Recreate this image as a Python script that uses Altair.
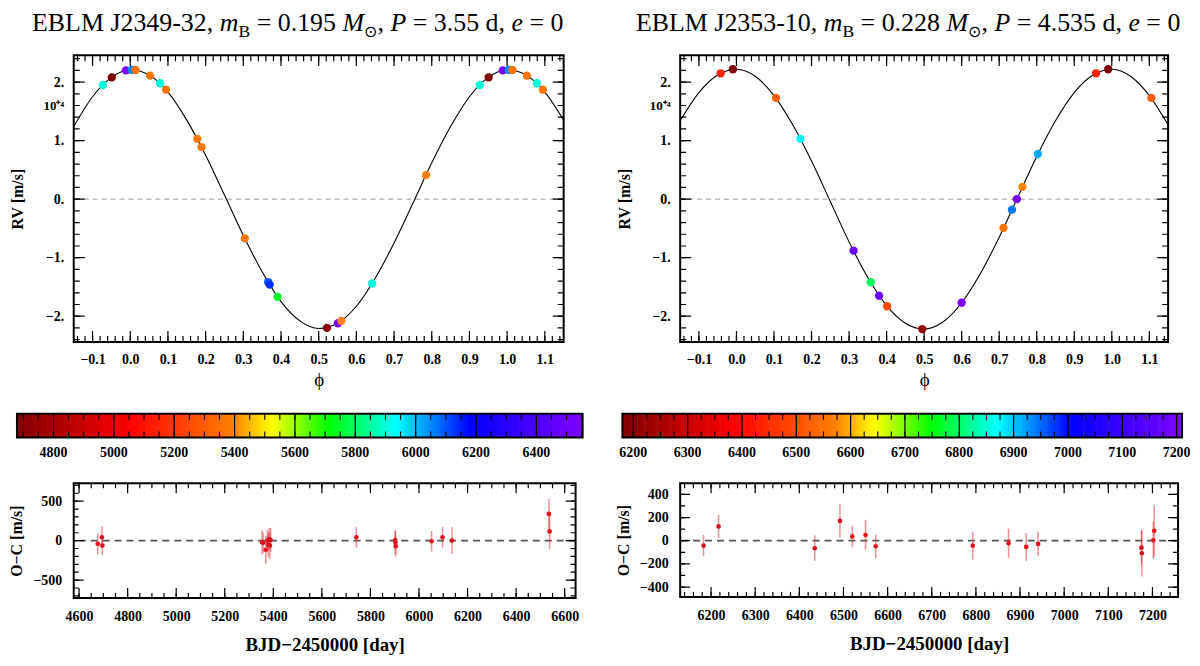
import altair as alt
import pandas as pd

FONT = "Liberation Serif"

#==========
# EBLM J2349-32 (left)
#==========
L_rv_phase = [0.9275, 0.951, 0.9885, 0.0037, 0.014, 0.0525, 0.079, 0.095, 0.178, 0.189,
              0.304, 0.366, 0.370, 0.391, 0.522, 0.551, 0.560, 0.642, 0.785]
L_rv = [19500, 20800, 22000, 22100, 22070, 21100, 19800, 18700, 10300, 8900,
        -6700, -14200, -14600, -16700, -22000, -21200, -20800, -14400, 4100]
L_rv_bjd = [5902, 4677, 6535, 6052, 5354, 5358, 5902, 5363, 5368, 5372,
            5378, 6097, 6136, 5742, 4694, 6538, 5384, 5902, 5389]

L_curve_phase = [-0.15, -0.10, -0.05, 0.00, 0.05, 0.10, 0.15, 0.20, 0.25, 0.30, 0.35, 0.40, 0.45, 0.50,
                 0.55, 0.60, 0.65, 0.70, 0.75, 0.80, 0.85, 0.90, 0.95, 1.00, 1.05, 1.10, 1.15]
L_curve_rv = [12400, 17500, 20800, 22100, 21200, 18300, 13500, 7500, 700, -6200, -12400, -17500, -20800, -22100,
              -21200, -18300, -13500, -7500, -700, 6200, 12400, 17500, 20800, 22100, 21200, 18300, 13500]

L_oc_bjd = [4677, 4694, 4696, 5354, 5358, 5369, 5376, 5379, 5383, 5386, 5389, 5742,
            5902, 5903, 5904, 6052, 6097, 6136, 6535, 6538]
L_oc = [-41, 42, -62, -21, -27, -116, 0, -54, 21, -62, 8, 42, 8, -21, -70, -8, 42, 0, 338, 117]
L_oc_err = [130, 140, 120, 150, 130, 180, 130, 150, 140, 170, 150, 130, 120, 150, 130, 130, 130, 170, 190, 220]

#==========
# EBLM J2353-10 (right)
#==========
R_rv_phase = [0.958, 0.9905, 0.1054, 0.1705, 0.312, 0.3576, 0.380, 0.4014, 0.495, 0.600,
              0.7115, 0.734, 0.747, 0.762, 0.803]
R_rv = [21500, 22200, 17300, 10300, -8800, -14200, -16500, -18300, -22200, -17700,
        -4900, -1800, 0, 2100, 7700]
R_rv_bjd = [6435, 6183, 6520, 6874, 7175, 6793, 7176, 6492, 6217, 7202,
            6550, 6941, 7204, 6573, 6914]

R_curve_phase = L_curve_phase
R_curve_rv = [13400, 18200, 21200, 22200, 21000, 17700, 12700, 6500, -400, -7300, -13400, -18200, -21200, -22200,
              -21000, -17700, -12700, -6500, 400, 7300, 13400, 18200, 21200, 22200, 21000, 17700, 12700]

R_oc_bjd = [6183, 6217, 6435, 6492, 6520, 6550, 6573, 6793, 6874, 6914, 6941, 7175, 7176, 7202, 7204]
R_oc = [-43, 123, -65, 171, 37, 49, -48, -43, -22, -54, -28, -60, -108, 3, 86]
R_oc_err = [92, 100, 109, 143, 93, 131, 100, 120, 126, 120, 107, 150, 200, 160, 220]

#==========
# ticks / colours
#==========
RV_X_LABELS = [round(-0.1 + 0.1 * i, 1) for i in range(13)]
RV_X_MINOR = [round(-0.14 + 0.02 * i, 2) for i in range(65)]
RV_Y_LABELS = [-20000, -10000, 0, 10000, 16000, 20000]
RV_Y_MAJOR = [-20000, -10000, 0, 10000, 20000]
RV_Y_MINOR = [-24000 + 2000 * i for i in range(25)]

L_CB_LABELS = list(range(4800, 6401, 200))
L_CB_MINOR = list(range(4700, 6551, 50))
R_CB_LABELS = list(range(6200, 7201, 100))
R_CB_MINOR = list(range(6200, 7201, 25))

L_OC_XLAB = list(range(4600, 6601, 200))
L_OC_XMIN = list(range(4600, 6641, 50))
L_OC_YLAB = [-500, 0, 500]
L_OC_YMIN = list(range(-700, 701, 100))
R_OC_XLAB = list(range(6200, 7201, 100))
R_OC_XMIN = list(range(6140, 7251, 20))
R_OC_YLAB = [-400, -200, 0, 200, 400]
R_OC_YMIN = list(range(-400, 401, 100))

RAINBOW_POS = [0, 0.2, 0.38, 0.45, 0.55, 0.67, 0.8, 1.0]
RAINBOW = ["#800000", "#ff0000", "#ff8000", "#ffff00", "#00ff00", "#00ffff", "#0000ff", "#8000ff"]


def rainbow(d0, d1):
    return alt.Scale(domain=[d0 + f * (d1 - d0) for f in RAINBOW_POS], range=RAINBOW, interpolate="rgb")


#==========
# helpers
#==========
REG = {" ": 250, ",": 250, "-": 333, ".": 250, "=": 564, "E": 611, "B": 667, "L": 611,
       "M": 889, "J": 389, "d": 500}
ITA = {"m": 722, "M": 833, "P": 611, "e": 444}


def text_w(s, size, italic=False):
    tab = ITA if italic else REG
    return sum(tab.get(c, 500 if c.isdigit() else 840) for c in s) * size / 1000


def title_layers(name, mass, period, cx, base, S):
    segs = [("EBLM " + name + ", ", False, 1.0, 0), ("m", True, 1.0, 0), ("B", False, 0.68, 0.22),
            (" = " + mass + " ", False, 1.0, 0), ("M", True, 1.0, 0), ("\u2299", False, 0.62, 0.22),
            (", ", False, 1.0, 0), ("P", True, 1.0, 0), (" = " + period + " d, ", False, 1.0, 0),
            ("e", True, 1.0, 0), (" = 0", False, 1.0, 0)]
    total = sum(text_w(t, S * k, it) for t, it, k, dy in segs)
    x = cx - total / 2
    one = pd.DataFrame({"a": [0]})
    out = []
    for t, it, k, dy in segs:
        lead = len(t) - len(t.lstrip(" "))
        out.append(alt.Chart(one).mark_text(
            text=t.strip(), align="left", baseline="alphabetic", font=FONT, fontSize=S * k,
            fontStyle="italic" if it else "normal", color="black"
        ).encode(x=alt.value(x + lead * 250 * S * k / 1000), y=alt.value(base + dy * S)))
        x += text_w(t, S * k, it)
    return out


def frame_ticks(xs, ys, xaxis, yaxis, xmaj, xmin, ymaj, ymin, W, H, big, small):
    # inward ticks on all four sides of the frame
    out = []
    for vals, L in ((xmin, small), (xmaj, big)):
        d = pd.DataFrame({"v": vals})
        enc = alt.X("v:Q", scale=xs, axis=xaxis)
        out.append(alt.Chart(d).mark_rule(color="black", strokeWidth=1.2, clip=True).encode(
            x=enc, y=alt.value(0), y2=alt.value(L)))
        out.append(alt.Chart(d).mark_rule(color="black", strokeWidth=1.2, clip=True).encode(
            x=enc, y=alt.value(H - L), y2=alt.value(H)))
    for vals, L in ((ymin, small), (ymaj, big)):
        d = pd.DataFrame({"v": vals})
        enc = alt.Y("v:Q", scale=ys, axis=yaxis)
        out.append(alt.Chart(d).mark_rule(color="black", strokeWidth=1.2, clip=True).encode(
            y=enc, x=alt.value(0), x2=alt.value(L)))
        out.append(alt.Chart(d).mark_rule(color="black", strokeWidth=1.2, clip=True).encode(
            y=enc, x=alt.value(W - L), x2=alt.value(W)))
    return out


def rv_panel(phase, rv, bjd, cph, crv, cscale, title, W, H):
    xs = alt.Scale(domain=[-0.15, 1.15], nice=False, zero=False)
    ys = alt.Scale(domain=[-24400, 24600], nice=False, zero=False)
    base = pd.DataFrame({"phase": phase, "rv": rv, "bjd": bjd})
    df = pd.concat([base.assign(phase=base.phase + s) for s in (-1, 0, 1)])
    df = df[(df.phase >= -0.15) & (df.phase <= 1.15)]

    xaxis = alt.Axis(values=RV_X_LABELS, format=".1f", title="\u03d5", ticks=False, domain=False, grid=False,
                     labelFont=FONT, labelFontWeight="bold", labelFontSize=14, labelPadding=11,
                     labelFlush=False, labelOverlap=False, titleFont=FONT, titleFontWeight="normal",
                     titleFontSize=19, titlePadding=4)
    yaxis = alt.Axis(values=RV_Y_LABELS, ticks=False, domain=False, grid=False,
                     labelExpr="datum.value == 16000 ? '10\u207a\u2074' : format(datum.value / 10000, 'd') + '.'",
                     labelFont=FONT, labelFontWeight="bold",
                     labelFontSize={"condition": {"test": "datum.value == 16000", "value": 13}, "value": 14},
                     labelPadding=10, labelFlush=False, labelOverlap=False, title="RV [m/s]",
                     titleFont=FONT, titleFontWeight="bold", titleFontSize=16, titlePadding=8,
                     minExtent=40, maxExtent=40)

    zero = alt.Chart(pd.DataFrame({"rv": [0]})).mark_rule(color="#9a9a9a", strokeDash=[5, 4], strokeWidth=1).encode(
        y=alt.Y("rv:Q", scale=ys, axis=yaxis))
    curve = alt.Chart(pd.DataFrame({"phase": cph, "rv": crv})).mark_line(
        color="black", strokeWidth=1.1, interpolate="monotone").encode(
        x=alt.X("phase:Q", scale=xs, axis=xaxis), y=alt.Y("rv:Q", scale=ys, axis=yaxis))
    pts = alt.Chart(df).mark_circle(size=70, opacity=1).encode(
        x=alt.X("phase:Q", scale=xs, axis=xaxis), y=alt.Y("rv:Q", scale=ys, axis=yaxis),
        color=alt.Color("bjd:Q", scale=cscale, legend=None))
    ticks = frame_ticks(xs, ys, xaxis, yaxis, RV_X_LABELS, RV_X_MINOR, RV_Y_MAJOR, RV_Y_MINOR, W, H, 11, 6)
    return alt.layer(zero, curve, pts, *ticks, *title).properties(width=W, height=H)


def colorbar(d0, d1, step, labels, minor, cscale, W, off, L, H):
    # bar of L px whose left end sits `off` px from the shared column origin
    k = (d1 - d0) / L
    v0 = d0 - off * k
    xs = alt.Scale(domain=[v0, v0 + W * k], nice=False, zero=False)
    X = lambda f: alt.X(f, scale=xs, axis=None)
    grad = alt.Chart(alt.sequence(d0, d1 + step, step, as_="t")).transform_calculate(
        t2="min(datum.t + %g, %g)" % (step * 1.6, d1)
    ).mark_rect(clip=False).encode(
        x=X("t:Q"), x2="t2:Q", color=alt.Color("t:Q", scale=cscale, legend=None))
    lines = alt.Chart(pd.DataFrame({"v": labels})).mark_rule(color="black", strokeWidth=1.2).encode(x=X("v:Q"))
    d = pd.DataFrame({"v": minor})
    top = alt.Chart(d).mark_rule(color="black", strokeWidth=1.1).encode(
        x=X("v:Q"), y=alt.value(0), y2=alt.value(6))
    bot = alt.Chart(d).mark_rule(color="black", strokeWidth=1.1).encode(
        x=X("v:Q"), y=alt.value(H - 6), y2=alt.value(H))
    border = alt.Chart(pd.DataFrame({"a": [d0], "b": [d1]})).mark_rect(
        fillOpacity=0, stroke="black", strokeWidth=2).encode(x=X("a:Q"), x2="b:Q")
    text = alt.Chart(pd.DataFrame({"v": labels})).mark_text(
        font=FONT, fontWeight="bold", fontSize=14, baseline="middle", align="center", color="black"
    ).encode(x=X("v:Q"), y=alt.value(H + 16), text=alt.Text("v:Q", format="d"))
    return alt.layer(grad, lines, top, bot, border, text).properties(
        width=W, height=H, view=alt.ViewBackground(stroke="transparent"))


def oc_panel(bjd, oc, err, xdom, ydom, xlab, xmin, ylab, ymin, W, H):
    xs = alt.Scale(domain=xdom, nice=False, zero=False)
    ys = alt.Scale(domain=ydom, nice=False, zero=False)
    df = pd.DataFrame({"bjd": bjd, "oc": oc, "err": err})
    df["lo"] = df.oc - df.err
    df["hi"] = df.oc + df.err

    xaxis = alt.Axis(values=xlab, format="d", ticks=False, domain=False, grid=False,
                     labelFont=FONT, labelFontWeight="bold", labelFontSize=14, labelPadding=12,
                     labelFlush=False, labelOverlap=False, title="BJD\u22122450000 [day]",
                     titleFont=FONT, titleFontWeight="bold", titleFontSize=19, titlePadding=12)
    yaxis = alt.Axis(values=ylab, format="d", ticks=False, domain=False, grid=False,
                     labelFont=FONT, labelFontWeight="bold", labelFontSize=14, labelPadding=12,
                     labelFlush=False, labelOverlap=False, title="O\u2212C [m/s]",
                     titleFont=FONT, titleFontWeight="bold", titleFontSize=16, titlePadding=8,
                     minExtent=41, maxExtent=41)

    zero = alt.Chart(pd.DataFrame({"oc": [0]})).mark_rule(color="#555555", strokeDash=[7, 5], strokeWidth=1.8).encode(
        y=alt.Y("oc:Q", scale=ys, axis=yaxis))
    bars = alt.Chart(df).mark_rule(color="#e8333c", opacity=0.55, strokeWidth=1.5).encode(
        x=alt.X("bjd:Q", scale=xs, axis=xaxis), y=alt.Y("lo:Q", scale=ys, axis=yaxis), y2="hi:Q")
    pts = alt.Chart(df).mark_circle(size=22, color="#e0101c", opacity=1).encode(
        x=alt.X("bjd:Q", scale=xs, axis=xaxis), y=alt.Y("oc:Q", scale=ys, axis=yaxis))
    ticks = frame_ticks(xs, ys, xaxis, yaxis, xlab, xmin, ylab, ymin, W, H, 10, 5)
    return alt.layer(zero, bars, pts, *ticks).properties(width=W, height=H)


#==========
# build
#==========
cL = rainbow(4679, 6553)
cR = rainbow(6180, 7210)

rvL = rv_panel(L_rv_phase, L_rv, L_rv_bjd, L_curve_phase, L_curve_rv, cL,
               title_layers("J2349-32", "0.195", "3.55", 225, -24, 26), 492, 288)
rvR = rv_panel(R_rv_phase, R_rv, R_rv_bjd, R_curve_phase, R_curve_rv, cR,
               title_layers("J2353-10", "0.228", "4.535", 229, -24, 26), 490, 288)

cbL = colorbar(4679, 6553, 4, L_CB_LABELS, L_CB_MINOR, cL, 492, -57, 568, 24)
cbR = colorbar(6180, 7210, 2, R_CB_LABELS, R_CB_MINOR, cR, 490, -58, 562, 24)

ocL = oc_panel(L_oc_bjd, L_oc, L_oc_err, [4578, 6645], [-725, 725],
               L_OC_XLAB, L_OC_XMIN, L_OC_YLAB, L_OC_YMIN, 504, 115)
ocR = oc_panel(R_oc_bjd, R_oc, R_oc_err, [6130, 7258], [-485, 495],
               R_OC_XLAB, R_OC_XMIN, R_OC_YLAB, R_OC_YMIN, 500, 114)

left = alt.vconcat(rvL, cbL, ocL, spacing=21)
right = alt.vconcat(rvR, cbR, ocR, spacing=21)

chart = alt.hconcat(left, right, spacing=30).resolve_scale(color="independent").properties(
    padding={"left": 0, "top": 0, "right": 0, "bottom": 0}
).configure(background="white").configure_view(stroke="black", strokeWidth=2)

chart.save("out.html", embed_options={"renderer": "svg", "actions": False})
